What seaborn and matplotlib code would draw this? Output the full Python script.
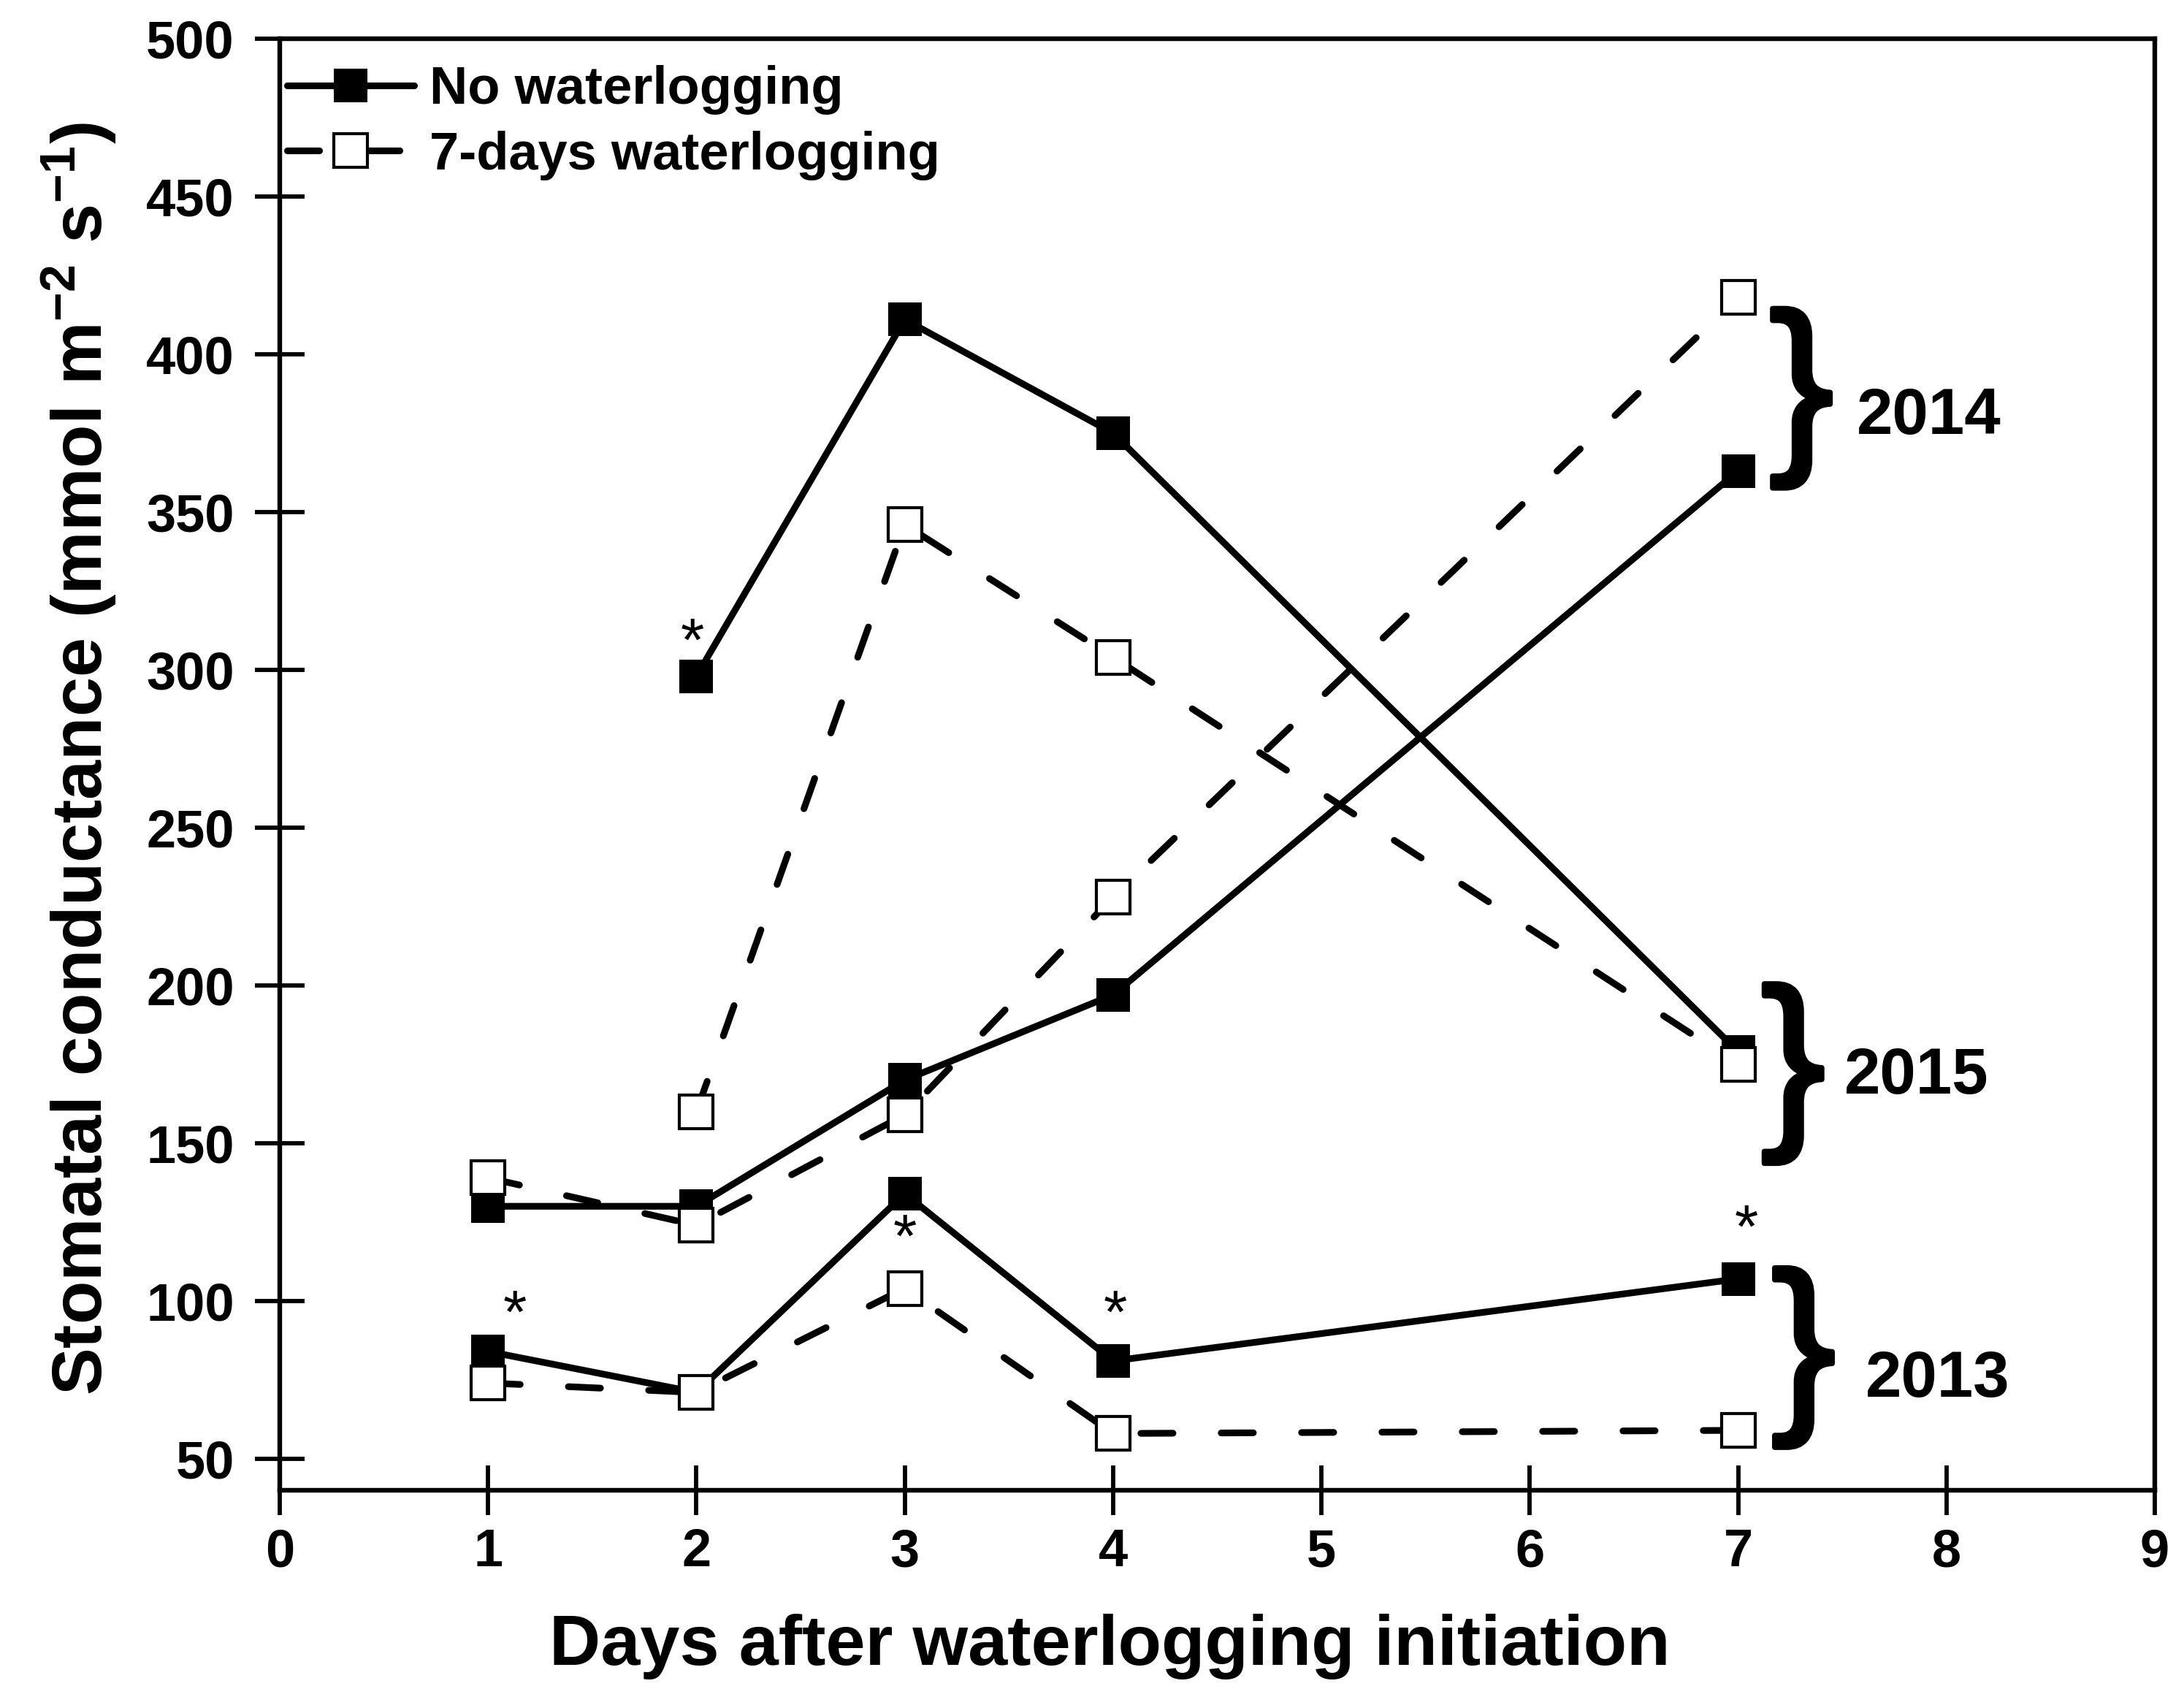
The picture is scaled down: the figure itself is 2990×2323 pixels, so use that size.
import numpy as np
import pandas as pd
import seaborn as sns
import matplotlib.pyplot as plt
import matplotlib.patheffects as pe

# valeurs (conductance stomatique, mmol m-2 s-1)
jours_2013 = [1, 2, 3, 4, 7]
temoin_2013 = [84, 71, 134, 81, 107]
noye_2013 = [74, 71, 104, 58, 59]

jours_2014 = [1, 2, 3, 4, 7]
temoin_2014 = [130, 130, 170, 197, 363]
noye_2014 = [139, 124, 159, 228, 418]

jours_2015 = [2, 3, 4, 7]
temoin_2015 = [298, 411, 375, 179]
noye_2015 = [160, 346, 304, 175]

traitements = ['No waterlogging', '7-days waterlogging']
annees = ['2013', '2014', '2015']

# étoiles (différence significative) : jour, valeur
etoiles_x = [1.13, 1.98, 3.0, 4.01, 7.04]
etoiles_y = [95, 308, 119, 95, 122]

# accolades : centre (axe y) et position du texte des années
accolades_x = [7.16, 7.15, 7.11]
accolades_y = [82, 386, 172]
annees_x = [7.61, 7.57, 7.51]
annees_y = [75, 380, 171]

lignes = []
for an, jours, t, n in [('2013', jours_2013, temoin_2013, noye_2013),
                        ('2014', jours_2014, temoin_2014, noye_2014),
                        ('2015', jours_2015, temoin_2015, noye_2015)]:
    lignes.append(pd.DataFrame({'day': jours, 'gs': t, 'trt': traitements[0], 'year': an}))
    lignes.append(pd.DataFrame({'day': jours, 'gs': n, 'trt': traitements[1], 'year': an}))
df = pd.concat(lignes, ignore_index=True)

sns.set_style('ticks')
plt.rcParams['font.family'] = ['Liberation Sans', 'DejaVu Sans']
plt.rcParams['font.weight'] = 'bold'
plt.rcParams['mathtext.default'] = 'regular'
for k in ['text.color', 'axes.labelcolor', 'xtick.color', 'ytick.color', 'axes.edgecolor']:
    plt.rcParams[k] = 'black'

fig = plt.figure(figsize=(14.95, 11.615), dpi=200)
ax = fig.add_axes([0.1281, 0.1218, 0.8585, 0.8554])

lw = 3.3
for trt in traitements:
    for an in annees:
        d = df[(df.trt == trt) & (df.year == an)]
        if trt == traitements[0]:
            sns.lineplot(data=d, x='day', y='gs', ax=ax, color='black', lw=lw,
                         marker='s', ms=16.5, mfc='black', mec='black', mew=0,
                         label=trt if an == '2013' else None, legend=False)
        else:
            sns.lineplot(data=d, x='day', y='gs', ax=ax, color='black', lw=lw,
                         marker='s', ms=16.5, mfc='white', mec='black', mew=1.5,
                         dashes=(4.8, 7.2), dash_capstyle='round',
                         label=trt if an == '2013' else None, legend=False)

for x, y in zip(etoiles_x, etoiles_y):
    ax.text(x, y, '*', fontsize=30, fontweight='normal', ha='center', va='center')

# accolades + années
epais = [pe.withStroke(linewidth=2.5, foreground='black')]
for xb, yc, xa, ya, an in zip(accolades_x, accolades_y, annees_x, annees_y, annees):
    ax.text(xb, yc, '}', fontsize=95, fontweight='normal', ha='left', va='center',
            path_effects=epais)
    ax.text(xa, ya, an, fontsize=32, fontweight='bold', ha='left', va='center')

ax.set_xlim(0, 9)
ax.set_ylim(40, 500)
ax.set_xticks(range(0, 10))
ax.set_yticks(range(50, 501, 50))
ax.tick_params(direction='inout', length=24.8, width=2.1, labelsize=26)
ax.tick_params(axis='y', pad=10)
ax.tick_params(axis='x', pad=6)
for s in ax.spines.values():
    s.set_linewidth(2.3)

ax.set_xlabel('Days after waterlogging initiation', fontsize=35, fontweight='bold')
ax.set_ylabel('Stomatal conductance (mmol m$^{-2}$ s$^{-1}$)', fontsize=35, fontweight='bold')
ax.xaxis.set_label_coords(0.4425, -0.085)
ax.yaxis.set_label_coords(-0.086, 0.504)

ax.legend(loc='upper left', bbox_to_anchor=(-0.01, 1.0), frameon=False,
          handlelength=2.4, handletextpad=0.3, labelspacing=0.3, borderaxespad=0.1,
          prop={'weight': 'bold', 'size': 26})

fig.savefig('out.png', dpi=200)
